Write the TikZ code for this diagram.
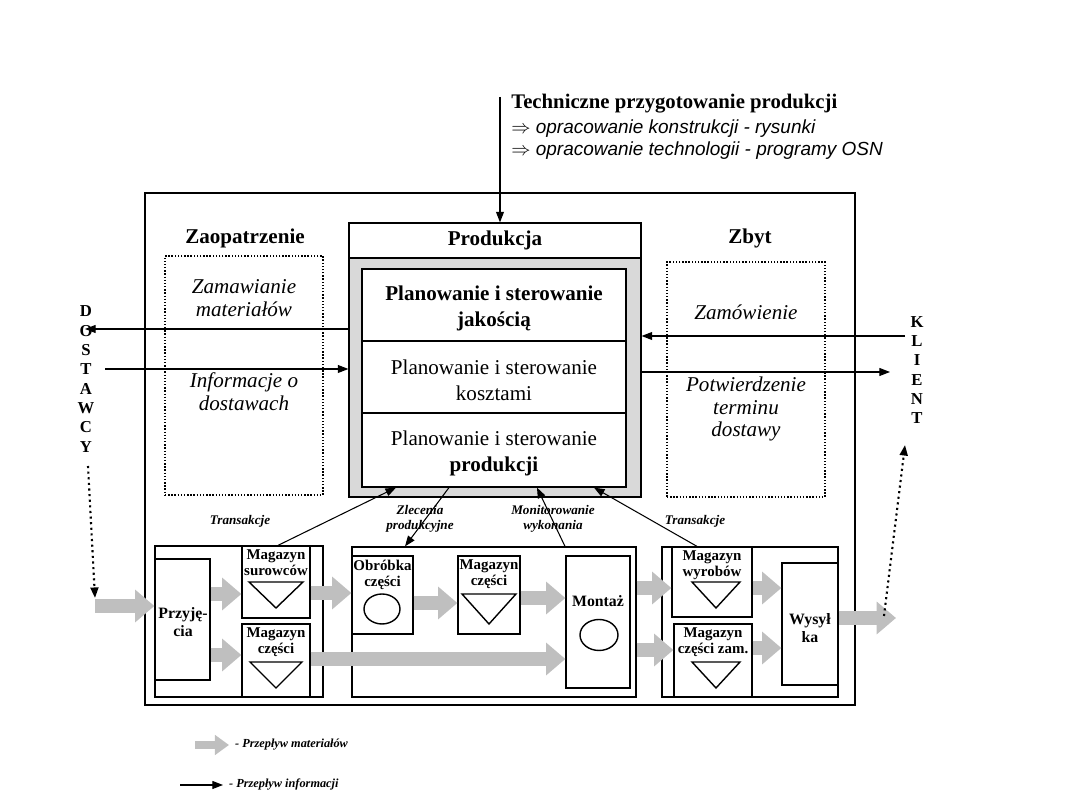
\documentclass[tikz,border=0pt]{standalone}
\usepackage{fontspec}
\setmainfont{Liberation Serif}
\newfontfamily\sansfam{Liberation Sans}
\usetikzlibrary{arrows.meta, positioning, fit}
\tikzset{>={Triangle[length=6pt,width=4.5pt]},
         box/.style={draw, line width=0.7pt, inner sep=0pt},
         dotbox/.style={draw, densely dotted, line width=0.8pt, inner sep=0pt},
         info/.style={->, line width=0.6pt},
         supply/.style={->, dotted, line width=1.2pt},
         matflow/.style={line width=8pt, draw=gray!50, -{Triangle[length=11pt,width=18pt]}},
         head/.style={font=\fontsize{12}{14}\selectfont\bfseries},
         plan/.style={align=center, yshift=-2pt, font=\fontsize{12}{14.5}\selectfont},
         note/.style={align=center, font=\fontsize{12}{13}\selectfont\itshape},
         boxtxt/.style={anchor=north, align=center, inner sep=2.5pt, font=\fontsize{8.5}{9}\selectfont\bfseries},
         midtxt/.style={align=center, inner sep=0pt, font=\fontsize{9}{10}\selectfont\bfseries},
         flowlbl/.style={align=center, font=\fontsize{7.5}{8.5}\selectfont\bfseries\itshape},
         side/.style={align=center, font=\fontsize{9.5}{11}\selectfont\bfseries},
         }
\newcommand\stocktri[4]{\draw[line width=0.8pt] (#1-#3,#2) -- (#1+#3,#2) -- (#1,#2+#4) -- cycle;}

\begin{document}
\begin{tikzpicture}[x=0.02cm, y=-0.02cm]
    \useasboundingbox (0,0) rectangle (1080,810);

    % technical preparation
    \node[anchor=north west, align=left, inner sep=0pt] (tech) at (511,94)
        {\fontsize{11.8}{13.5}\selectfont\bfseries Techniczne przygotowanie produkcji\\[2pt]
         {\sansfam\itshape\fontsize{10.8}{13.5}\selectfont $\Rightarrow$ opracowanie konstrukcji - rysunki}\\[0.5pt]
         {\sansfam\itshape\fontsize{10.8}{13.5}\selectfont $\Rightarrow$ opracowanie technologii - programy OSN}};
    \coordinate (techIn) at (500,97);

    % enterprise
    \node[box, line width=0.9pt, fit={(145,193) (855,705)}] (firm) {};

    \node[head] (zaopH) at (245,238) {Zaopatrzenie};
    \node[head] (zbytH) at (750,238) {Zbyt};
    \node[dotbox, fit={(165,256) (323,495)}] (zaop) {};
    \node[dotbox, fit={(667,262) (825,497)}] (zbyt) {};
    \node[note] (zamMat) at (244,298) {Zamawianie\\materiałów};
    \node[note] (infDost) at (244,392) {Informacje o\\dostawach};
    \node[note] (zamow) at (746,312) {Zamówienie};
    \node[note] (potw) at (746,409) {Potwierdzenie\\terminu\\dostawy};

    % production planning
    \node[box, fit={(349,223) (641,258)}] (prodH) {};
    \node[head] (prodT) at (prodH) {Produkcja};
    \node[box, fill=gray!30, fit={(349,258) (641,497)}] (prod) {};
    \node[box, fill=white, fit={(362,269) (626,341)}] (planJak) {};
    \node[box, fill=white, fit={(362,341) (626,413)}] (planKos) {};
    \node[box, fill=white, fit={(362,413) (626,487)}] (planPro) {};
    \node[plan] (planJakT) at (planJak) {\bfseries Planowanie i sterowanie\\\bfseries jakością};
    \node[plan] (planKosT) at (planKos) {Planowanie i sterowanie\\kosztami};
    \node[plan] (planProT) at (planPro) {Planowanie i sterowanie\\\bfseries produkcji};

    % suppliers and customers
    \node[side] (dost) at (86,379) {D\\O\\S\\T\\A\\W\\C\\Y};
    \node[side] (klient) at (917,370) {K\\L\\I\\E\\N\\T};
    \coordinate (dostOut) at (85,329);
    \coordinate (dostIn) at (105,369);
    \coordinate (klIn) at (905,336);
    \coordinate (klOut) at (890,372);
    \coordinate (dostTop) at (88,466);
    \coordinate (dostBot) at (95,598);
    \coordinate (matIn) at (95,606);
    \coordinate (matOut) at (896,618);
    \coordinate (klBot) at (884,616);
    \coordinate (klTop) at (905,445);

    % material flow: receiving
    \node[box, fit={(155,546) (323,697)}] (grpIn) {};
    \node[box, fit={(155,559) (210,680)}] (przyj) {};
    \node[midtxt] (przyjT) at (183,622) {Przyję-\\cia};
    \node[box, fit={(242,546) (310,618)}, label={[boxtxt]north:{Magazyn\\surowców}}] (magSur) {};
    \stocktri{276}{582}{27}{26}
    \node[box, fit={(242,624) (310,697)}, label={[boxtxt]north:{Magazyn\\części}}] (magCz) {};
    \stocktri{276}{662}{26}{26}

    % material flow: manufacturing
    \node[box, fit={(352,547) (636,697)}] (grpMan) {};
    \node[box, fit={(352,556) (413,634)}, label={[boxtxt]north:{Obróbka\\części}}] (obrob) {};
    \draw[line width=0.8pt] (382,609) ellipse [x radius=0.36cm, y radius=0.3cm];
    \node[box, fit={(458,556) (520,634)}, label={[boxtxt]north:{Magazyn\\części}}] (magCz2) {};
    \stocktri{489}{594}{27}{30}
    \node[box, fit={(566,556) (630,688)}] (montaz) {};
    \node[midtxt] (montazT) at (598,601) {Montaż};
    \draw[line width=0.8pt] (599,635) ellipse [x radius=0.38cm, y radius=0.31cm];

    % material flow: dispatch
    \node[box, fit={(662,547) (838,697)}] (grpOut) {};
    \node[box, fit={(672,547) (752,617)}, label={[boxtxt]north:{Magazyn\\wyrobów}}] (magWyr) {};
    \stocktri{716}{582}{24}{26}
    \node[box, fit={(674,624) (752,697)}, label={[boxtxt]north:{Magazyn\\części zam.}}] (magZam) {};
    \stocktri{716}{662}{24}{26}
    \node[box, fit={(782,563) (838,685)}] (wysyl) {};
    \node[midtxt] (wysylT) at (810,628) {Wysył\\ka};

    % material arrows
    \draw[matflow] (matIn) -- (matIn -| przyj.west);
    \draw[matflow] (przyj.east |- 0,594) -- (magSur.west |- 0,594);
    \draw[matflow] (przyj.east |- 0,655) -- (magCz.west |- 0,655);
    \draw[matflow] (magSur.east |- 0,593) -- (obrob.west |- 0,593);
    \draw[matflow] (magCz.east |- 0,659) -- (montaz.west |- 0,659);
    \draw[matflow] (obrob.east |- 0,603) -- (magCz2.west |- 0,603);
    \draw[matflow] (magCz2.east |- 0,598) -- (montaz.west |- 0,598);
    \draw[matflow] (grpMan.east |- 0,588) -- (magWyr.west |- 0,588);
    \draw[matflow] (grpMan.east |- 0,650) -- (magZam.west |- 0,650);
    \draw[matflow] (magWyr.east |- 0,588) -- (wysyl.west |- 0,588);
    \draw[matflow] (magZam.east |- 0,648) -- (wysyl.west |- 0,648);
    \draw[matflow] (wysyl.east |- matOut) -- (matOut);

    % information arrows
    \draw[info] (techIn) -- (techIn |- prodH.north);
    \draw[info] (dostOut -| prod.west) -- (dostOut);
    \draw[info] (dostIn) -- (dostIn -| prod.west);
    \draw[info] (klIn) -- (klIn -| prod.east);
    \draw[info] (klOut -| prod.east) -- (klOut);
    \draw[supply] (dostTop) -- (dostBot);
    \draw[supply] (klBot) -- (klTop);

    \draw[info] (magSur.north -| 278,0) -- (planPro.south -| 396,0);
    \draw[info] (planPro.south -| 449,0) -- (grpMan.north -| 405,0);
    \draw[info] (grpMan.north -| 565,0) -- (planPro.south -| 537,0);
    \draw[info] (magWyr.north -| 697,0) -- (planPro.south -| 594,0);
    \node[flowlbl] (trans1) at (240,521) {Transakcje};
    \node[flowlbl] (zlec) at (420,519) {Zlecenia\\produkcyjne};
    \node[flowlbl] (monit) at (553,519) {Monitorowanie\\wykonania};
    \node[flowlbl] (trans2) at (695,521) {Transakcje};

    % legend
    \node[flowlbl, anchor=west, font=\fontsize{7}{8}\selectfont\bfseries\itshape] (legMat) at (229,745) {- Przepływ materiałów};
    \node[flowlbl, anchor=west, font=\fontsize{7}{8}\selectfont\bfseries\itshape] (legInf) at (223,785) {- Przepływ informacji};
    \coordinate (legMatA) at (195,745);
    \coordinate (legInfA) at (180,785);
    \draw[matflow, line width=5pt, -{Triangle[length=8pt,width=11pt]}] (legMatA) -- (legMat.west);
    \draw[info] (legInfA) -- (legInf.west);
\end{tikzpicture}
\end{document}
